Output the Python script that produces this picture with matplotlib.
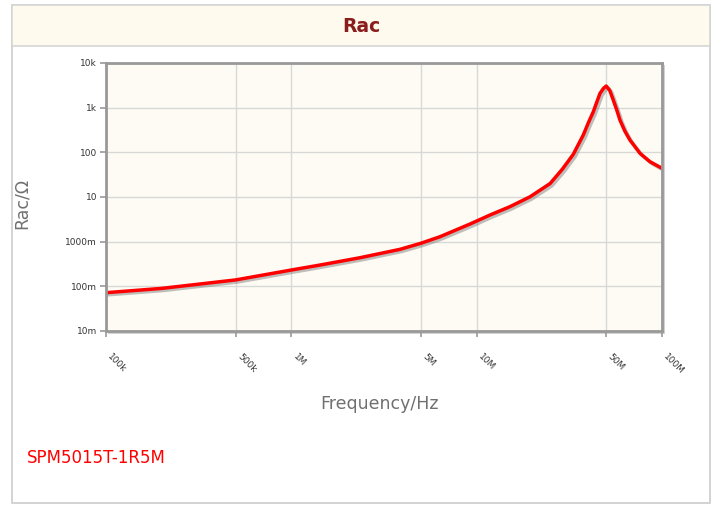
import matplotlib
matplotlib.use('Agg')
import matplotlib.pyplot as plt
import matplotlib.patheffects as pe
from matplotlib.patches import Rectangle

# Werte (Frequenz in Hz, Rac in Ohm)
freq = [1e5, 2e5, 5e5, 1e6, 1.43e6, 2.35e6, 3.86e6, 5e6, 6.34e6, 9.2e6,
        1.18e7, 1.51e7, 1.94e7, 2.49e7, 2.9e7, 3.32e7, 3.76e7, 4.0e7, 4.26e7,
        4.45e7, 4.63e7, 4.83e7, 5.0e7, 5.22e7, 5.46e7, 5.7e7, 5.93e7,
        6.3e7, 6.71e7, 7.61e7, 8.61e7, 1e8]
rac = [0.072, 0.09, 0.139, 0.232, 0.30, 0.4375, 0.674, 0.92, 1.29, 2.48,
       3.95, 6.06, 10.1, 20, 42, 90, 244, 453, 811,
       1340, 2094, 2700, 3050, 2450, 1480, 886, 529,
       300, 189, 95, 61.7, 43.9]

xticks = [1e5, 5e5, 1e6, 5e6, 1e7, 5e7, 1e8]
xlabels = ['100k', '500k', '1M', '5M', '10M', '50M', '100M']
yticks = [0.01, 0.1, 1, 10, 100, 1000, 10000]
ylabels = ['10m', '100m', '1000m', '10', '100', '1k', '10k']

W, H = 718, 505
fig = plt.figure(figsize=(W / 100, H / 100), dpi=100)


def box(x0, y0, x1, y1, **kw):
    # Rechteck in Pixelkoordinaten (y von oben)
    r = Rectangle((x0 / W, 1 - y1 / H), (x1 - x0) / W, (y1 - y0) / H,
                  transform=fig.transFigure, **kw)
    fig.patches.append(r)
    return r


box(12, 5, 710, 503, facecolor='white', edgecolor='#cccccc', lw=1.2, zorder=-3)
box(12, 5, 710, 46, facecolor='#fefaed', edgecolor='#d6d6d6', lw=1.2, zorder=-2)
box(108, 65, 665, 334, facecolor='#d2d2d2', edgecolor='none', zorder=-1)

fig.text(361 / W, 1 - 26 / H, 'Rac', ha='center', va='center',
         fontsize=13.5, fontweight='bold', color='#8b1c1c')

ax = fig.add_axes([106 / W, 1 - 331 / H, 556 / W, 268 / H])
ax.set_facecolor('#fdfbf3')
ax.plot(freq, rac, color='#ff0000', lw=2.5, solid_capstyle='round', solid_joinstyle='round',
        path_effects=[pe.SimpleLineShadow(offset=(1.5, -1.5), shadow_color='#808080', alpha=0.5),
                      pe.Normal()])
ax.set_xscale('log')
ax.set_yscale('log')
ax.set_xlim(1e5, 1e8)
ax.set_ylim(0.01, 10000)
ax.minorticks_off()
ax.set_xticks(xticks)
ax.set_xticklabels(xlabels, rotation=-45, ha='left', va='top', rotation_mode='default')
ax.set_yticks(yticks)
ax.set_yticklabels(ylabels)
ax.tick_params(axis='both', colors='#999999', labelcolor='#333333', labelsize=6.5,
               length=4.5, width=1.2)
ax.tick_params(axis='x', pad=11)
ax.tick_params(axis='y', pad=2)
ax.grid(True, color='#d8d8d8', lw=1)
ax.set_axisbelow(True)
for s in ax.spines.values():
    s.set_color('#999999')
    s.set_linewidth(2)

fig.text(22 / W, 1 - 203 / H, 'Rac/\u03a9', rotation=90, ha='center', va='center',
         fontsize=12.5, color='#707070')
fig.text(380 / W, 1 - 404 / H, 'Frequency/Hz', ha='center', va='center',
         fontsize=12.5, color='#707070')
fig.text(27 / W, 1 - 458 / H, 'SPM5015T-1R5M', ha='left', va='center',
         fontsize=12, color='#ff0000')

fig.savefig('out.png', dpi=100)
